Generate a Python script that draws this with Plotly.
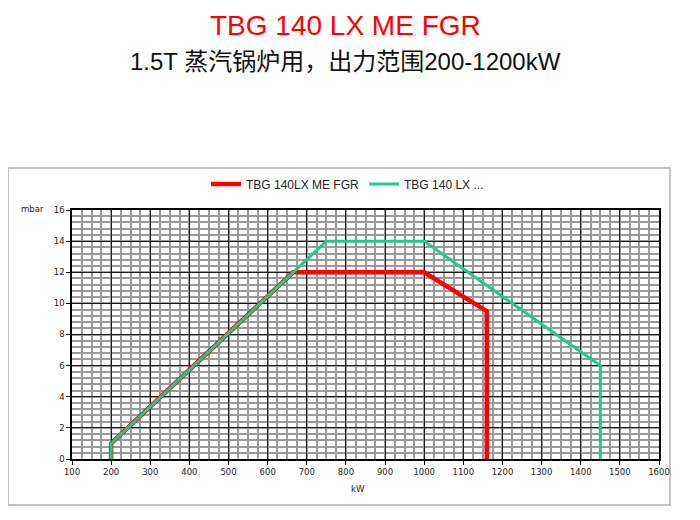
import plotly.graph_objects as go

# Data (kW vs mbar)
red_name = "TBG 140LX ME FGR"
red_x = [200, 200, 665, 1000, 1160, 1160]
red_y = [0, 1, 12, 12, 9.5, 0]

green_name = "TBG 140 LX ..."
green_x = [200, 200, 750, 1000, 1450, 1450]
green_y = [0, 1, 14, 14, 6, 0]

x_ticks = list(range(100, 1700, 100))
y_ticks = list(range(0, 18, 2))

OFF = 8  # page body margin
W, H = 700 - OFF, 520 - OFF
# plot area in window pixels: x 72..659, y 210..459
L, T = 72 - OFF, 210 - OFF
R, B = W - (659 - OFF), H - (459 - OFF)
pw, ph = W - L - R, H - T - B

def px_x(p):
    return (p - OFF - L) / pw

def px_y(p):
    return (H - B - (p - OFF)) / ph

fig = go.Figure()
fig.add_trace(go.Scatter(x=red_x, y=red_y, mode="lines", name=red_name,
                         line=dict(color="#ff0000", width=4.5)))
fig.add_trace(go.Scatter(x=green_x, y=green_y, mode="lines", name=green_name,
                         line=dict(color="#1ecb8e", width=3)))

axis_font = dict(family="DejaVu Sans, Verdana, sans-serif", size=8.5, color="#222")

fig.update_xaxes(range=[100, 1600], tickvals=x_ticks, ticktext=[str(v) for v in x_ticks],
                 showgrid=True, gridcolor="#1a1a1a", gridwidth=1.3,
                 minor=dict(dtick=25, tick0=100, showgrid=True, gridcolor="#9a9a9a", gridwidth=1.5),
                 showline=True, linecolor="#000", linewidth=1.5, mirror=True,
                 ticks="outside", ticklen=4, tickcolor="#000", tickfont=axis_font,
                 zeroline=False, fixedrange=True)
fig.update_yaxes(range=[0, 16], tickvals=y_ticks, ticktext=[str(v) for v in y_ticks],
                 showgrid=True, gridcolor="#1a1a1a", gridwidth=1.3,
                 minor=dict(dtick=0.4, tick0=0, showgrid=True, gridcolor="#9a9a9a", gridwidth=1.5),
                 showline=True, linecolor="#000", linewidth=1.5, mirror=True,
                 ticks="outside", ticklen=4, tickcolor="#000", tickfont=axis_font,
                 zeroline=False, fixedrange=True)

fig.update_layout(
    width=W, height=H,
    margin=dict(l=L, r=R, t=T, b=B, autoexpand=False),
    paper_bgcolor="white", plot_bgcolor="white",
    showlegend=True,
    legend=dict(orientation="h", x=px_x(206), y=px_y(184), xanchor="left", yanchor="middle",
                font=dict(family="Liberation Sans, Arial, sans-serif", size=12, color="#222"),
                bgcolor="rgba(0,0,0,0)", itemwidth=30, tracegroupgap=0),
    shapes=[dict(type="rect", xref="paper", yref="paper",
                 x0=px_x(8), x1=px_x(670), y0=px_y(505), y1=px_y(168),
                 line=dict(color="#b0b0b0", width=1.5), fillcolor="rgba(0,0,0,0)", layer="below")],
    annotations=[
        dict(text="TBG 140 LX ME FGR", xref="paper", yref="paper", x=px_x(345), y=px_y(OFF),
             xanchor="center", yanchor="top", showarrow=False,
             font=dict(family="Liberation Sans, Arial, sans-serif", size=28, color="#ff0000")),
        dict(text="1.5T 蒸汽锅炉用，出力范围200-1200kW", xref="paper", yref="paper",
             x=px_x(345), y=px_y(62), xanchor="center", yanchor="middle", showarrow=False,
             font=dict(family="Liberation Sans, Noto Sans CJK SC, sans-serif", size=24, color="#111")),
        dict(text="mbar", xref="paper", yref="paper", x=px_x(32), y=px_y(209),
             xanchor="center", yanchor="middle", showarrow=False, font=axis_font),
        dict(text="kW", xref="paper", yref="paper", x=px_x(358), y=px_y(489),
             xanchor="center", yanchor="middle", showarrow=False, font=axis_font),
    ],
)

fig.write_html("out.html")
